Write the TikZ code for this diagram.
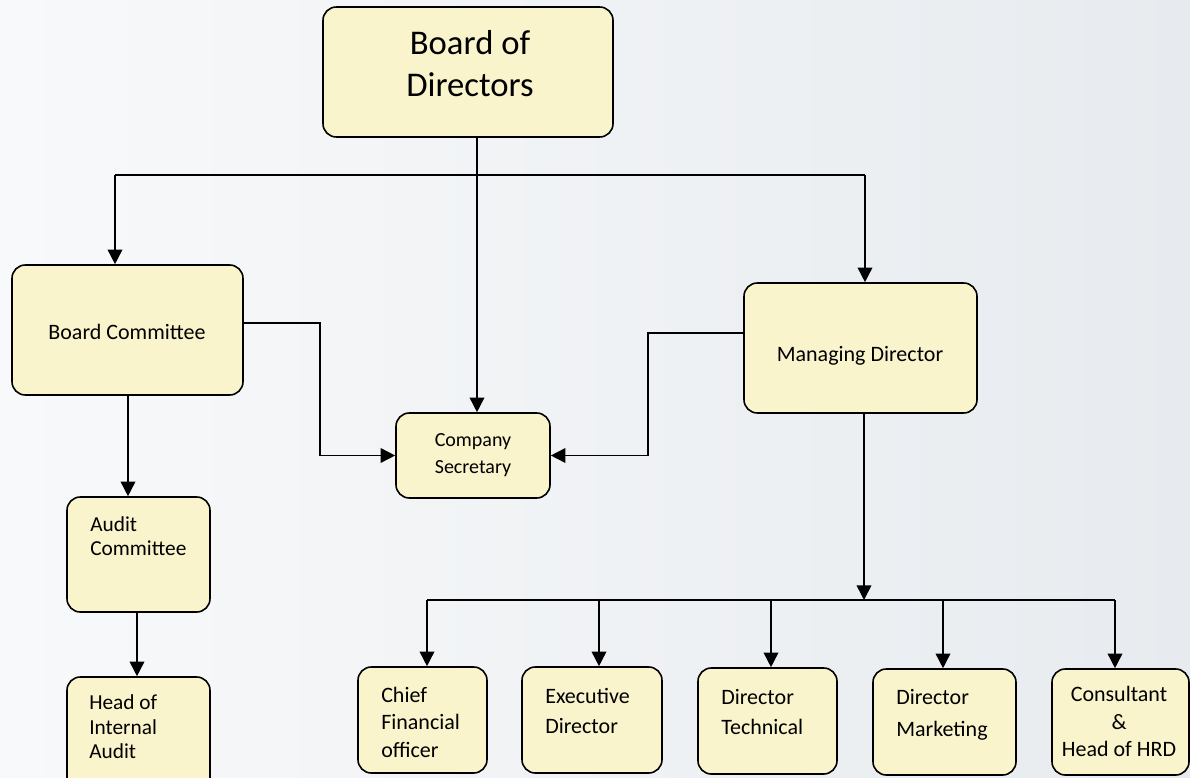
\documentclass[tikz,border=0pt]{standalone}
\usepackage{fontspec}
\setmainfont{Carlito}
\usetikzlibrary{arrows.meta,calc}
\definecolor{boxfill}{RGB}{250,244,204}
\definecolor{bgA}{RGB}{248,249,250}
\definecolor{bgB}{RGB}{231,235,239}
\tikzset{
  box/.style={draw=black, line width=1.2pt, rounded corners=10pt, fill=boxfill, inner sep=0pt},
  conn/.style={draw=black, line width=1.2pt},
  arr/.style={conn, -{Triangle[length=11pt,width=11pt]}},
  lbl/.style={inner sep=0pt, text=black},
  lblL/.style={lbl, align=left, anchor=west},
  lblC/.style={lbl, align=center, anchor=center},
}
\begin{document}
\begin{tikzpicture}[x=0.75pt,y=-0.75pt]
\useasboundingbox (0,0) rectangle (1190,778);
\clip (0,0) rectangle (1190,778);
\shade[left color=bgA, right color=bgB] (0,0) rectangle (1190,778);

% boxes
\node[box, minimum width=217.5pt, minimum height=97.5pt] (bod) at (468,72) {};
\node[box, minimum width=173.25pt, minimum height=97.5pt] (bc) at (127.5,330) {};
\node[box, minimum width=115.5pt, minimum height=63.75pt] (cs) at (473,455.5) {};
\node[box, minimum width=174.75pt, minimum height=97.5pt] (md) at (860.5,348) {};
\node[box, minimum width=107.25pt, minimum height=86.25pt] (ac) at (138.5,554.5) {};
\node[box, minimum width=107.25pt, minimum height=92.25pt] (hia) at (138.5,738.5) {};
\node[box, minimum width=96.75pt, minimum height=79.5pt] (cfo) at (422.5,720) {};
\node[box, minimum width=105pt, minimum height=79.5pt] (ed) at (592,720) {};
\node[box, minimum width=104.25pt, minimum height=79.5pt] (dt) at (767.5,721) {};
\node[box, minimum width=107.25pt, minimum height=79.5pt] (dm) at (944.5,722) {};
\node[box, minimum width=102.75pt, minimum height=79.5pt] (ch) at (1120.5,722) {};

% texts
\node[lblC, font=\fontsize{26}{31.5}\selectfont] (bodT) at (470,64) {Board of\\Directors};
\node[lblC, font=\fontsize{16.5}{20}\selectfont] (bcT) at (127,332) {Board Committee};
\node[lblC, font=\fontsize{15}{20.8}\selectfont] (csT) at (473,455) {Company\\Secretary};
\node[lblC, font=\fontsize{16.5}{20}\selectfont] (mdT) at (860,356) {Managing Director};
\node[lblL, font=\fontsize{16}{18}\selectfont] (acT) at (90,536) {Audit\\Committee};
\node[lblL, font=\fontsize{16}{18.4}\selectfont] (hiaT) at (89,727) {Head of\\Internal\\Audit};
\node[lblL, font=\fontsize{16.5}{20.6}\selectfont] (cfoT) at (381,722) {Chief\\Financial\\officer};
\node[lblL, font=\fontsize{16.5}{23}\selectfont] (edT) at (545,711) {Executive\\Director};
\node[lblL, font=\fontsize{16.5}{23}\selectfont] (dtT) at (721,712) {Director\\Technical};
\node[lblL, font=\fontsize{16.5}{24}\selectfont] (dmT) at (896,715) {Director\\Marketing};
\node[lblC, font=\fontsize{16.5}{20.3}\selectfont] (chT) at (1119,721.5) {Consultant\\\&\\Head of HRD};

% connectors
\coordinate (bodx) at (477,0);
\coordinate (busL) at (115,175);
\coordinate (busR) at (865,175);
\draw[arr] (bod.south -| bodx) -- (cs.north -| bodx);
\draw[conn] (busL) -- (busR);
\draw[arr] (busL) -- (bc.north -| busL);
\draw[arr] (busR) -- (md.north -| busR);

\draw[arr] (bc.east |- 0,323) -- (320,323) |- (cs.west);
\draw[arr] (md.west |- 0,333) -- (648,333) |- (cs.east);

\coordinate (bcx) at (128,0);
\coordinate (acx) at (137,0);
\draw[arr] (bc.south -| bcx) -- (ac.north -| bcx);
\draw[arr] (ac.south -| acx) -- (hia.north -| acx);

\coordinate (mdx) at (864,600);
\coordinate (busBL) at (427,600);
\coordinate (busBR) at (1115,600);
\draw[arr] (md.south -| mdx) -- (mdx);
\draw[conn] (busBL) -- (busBR);
\draw[arr] (busBL) -- (cfo.north -| busBL);
\draw[arr] (599,600) -- (ed.north -| 599,0);
\draw[arr] (771,600) -- (dt.north -| 771,0);
\draw[arr] (943,600) -- (dm.north -| 943,0);
\draw[arr] (busBR) -- (ch.north -| busBR);
\end{tikzpicture}
\end{document}
